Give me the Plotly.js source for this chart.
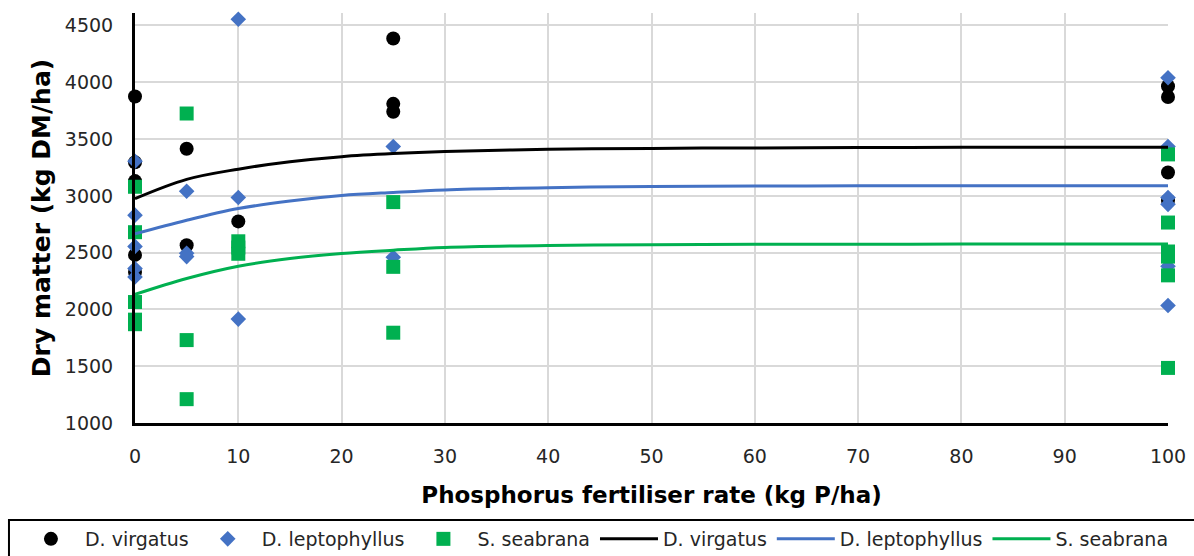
<!DOCTYPE html>
<html>
<head>
<meta charset="utf-8">
<script src="https://cdn.plot.ly/plotly-3.0.1.min.js"></script>
<style>
html, body { margin: 0; padding: 0; background: #ffffff; }
#chart { width: 1194px; height: 556px; }
</style>
</head>
<body>
<div id="chart"></div>
<script>
var virgatusX = [0, 0, 0, 0, 0, 5, 5, 10, 25, 25, 25, 100, 100, 100, 100];
var virgatusY = [3875, 3295, 3130, 2480, 2330, 3415, 2565, 2775, 4385, 3810, 3740, 3965, 3870, 3205, 2960];

var leptophyllusX = [0, 0, 0, 0, 0, 5, 5, 5, 10, 10, 10, 25, 25, 100, 100, 100, 100, 100, 100];
var leptophyllusY = [3305, 2830, 2555, 2360, 2285, 3040, 2495, 2465, 4555, 2985, 1915, 3435, 2460, 4040, 3435, 2985, 2925, 2380, 2035];

var seabranaX = [0, 0, 0, 0, 0, 5, 5, 5, 10, 10, 10, 25, 25, 25, 100, 100, 100, 100, 100, 100];
var seabranaY = [3080, 2680, 2065, 1910, 1870, 3725, 1730, 1210, 2600, 2545, 2490, 2945, 2375, 1795, 3365, 2765, 2510, 2465, 2300, 1485];

// Fitted response curves
var curveX = [0, 5, 10, 15, 20, 25, 30, 40, 50, 60, 70, 80, 90, 100];
var virgatusFit = [2975, 3145, 3235, 3300, 3345, 3372, 3390, 3410, 3418, 3422, 3425, 3427, 3428, 3428];
var leptophyllusFit = [2665, 2785, 2888, 2955, 3003, 3030, 3052, 3072, 3082, 3086, 3088, 3088, 3088, 3088];
var seabranaFit = [2132, 2272, 2380, 2448, 2492, 2521, 2545, 2563, 2570, 2573, 2574, 2575, 2575, 2575];

var seriesNames = ['D. virgatus', 'D. leptophyllus', 'S. seabrana'];
var xTickVals = [0, 10, 20, 30, 40, 50, 60, 70, 80, 90, 100];
var yTickVals = [1000, 1500, 2000, 2500, 3000, 3500, 4000, 4500];

var BLACK = '#000000', BLUE = '#4472C4', GREEN = '#00B050';

var traces = [
  { x: virgatusX, y: virgatusY, name: seriesNames[0], type: 'scatter', mode: 'markers', cliponaxis: false,
    marker: { symbol: 'circle', size: 14, color: BLACK } },
  { x: leptophyllusX, y: leptophyllusY, name: seriesNames[1], type: 'scatter', mode: 'markers', cliponaxis: false,
    marker: { symbol: 'diamond', size: 12, color: BLUE } },
  { x: seabranaX, y: seabranaY, name: seriesNames[2], type: 'scatter', mode: 'markers', cliponaxis: false,
    marker: { symbol: 'square', size: 14, color: GREEN } },
  { x: curveX, y: virgatusFit, name: seriesNames[0], type: 'scatter', mode: 'lines', cliponaxis: false,
    line: { color: BLACK, width: 3, shape: 'spline', smoothing: 1 } },
  { x: curveX, y: leptophyllusFit, name: seriesNames[1], type: 'scatter', mode: 'lines', cliponaxis: false,
    line: { color: BLUE, width: 3, shape: 'spline', smoothing: 1 } },
  { x: curveX, y: seabranaFit, name: seriesNames[2], type: 'scatter', mode: 'lines', cliponaxis: false,
    line: { color: GREEN, width: 3, shape: 'spline', smoothing: 1 } }
];

var tickFont = { family: 'DejaVu Sans', size: 19, color: '#262626' };

var layout = {
  width: 1194, height: 556,
  margin: { l: 135, r: 26, t: 13, b: 133, pad: 0, autoexpand: false },
  paper_bgcolor: '#ffffff', plot_bgcolor: '#ffffff',
  showlegend: true,
  xaxis: {
    range: [0, 100], tickvals: xTickVals, ticktext: xTickVals.map(String),
    showgrid: true, gridcolor: '#d9d9d9', gridwidth: 2,
    showline: true, linecolor: '#000000', linewidth: 3,
    zeroline: false, ticks: '', ticklabelstandoff: 14, automargin: false,
    tickfont: tickFont,
    title: { text: 'Phosphorus fertiliser rate (kg P/ha)', standoff: 22,
      font: { family: 'DejaVu Sans', size: 23, weight: 'bold', color: '#000000' } }
  },
  yaxis: {
    range: [1000, 4610], tickvals: yTickVals, ticktext: yTickVals.map(String),
    showgrid: true, gridcolor: '#d9d9d9', gridwidth: 2,
    showline: true, linecolor: '#000000', linewidth: 3,
    zeroline: false, ticks: '', ticklabelstandoff: 15, automargin: false,
    tickfont: tickFont,
    title: { text: 'Dry matter (kg DM/ha)', standoff: 8,
      font: { family: 'DejaVu Sans', size: 25, weight: 'bold', color: '#000000' } }
  },
  legend: {
    orientation: 'h', x: -0.1143, xanchor: 'left', y: -0.2366, yanchor: 'top',
    font: { family: 'DejaVu Sans', size: 19, color: '#262626' },
    itemwidth: 58, bgcolor: 'rgba(0,0,0,0)', borderwidth: 0, traceorder: 'normal'
  },
  shapes: [
    { type: 'rect', xref: 'paper', yref: 'paper', x0: -0.122, x1: 1.04, y0: -0.2366, y1: -0.40,
      line: { color: '#000000', width: 2 }, fillcolor: 'rgba(0,0,0,0)' }
  ]
};

Plotly.newPlot('chart', traces, layout, { displayModeBar: false, staticPlot: true });
</script>
</body>
</html>
